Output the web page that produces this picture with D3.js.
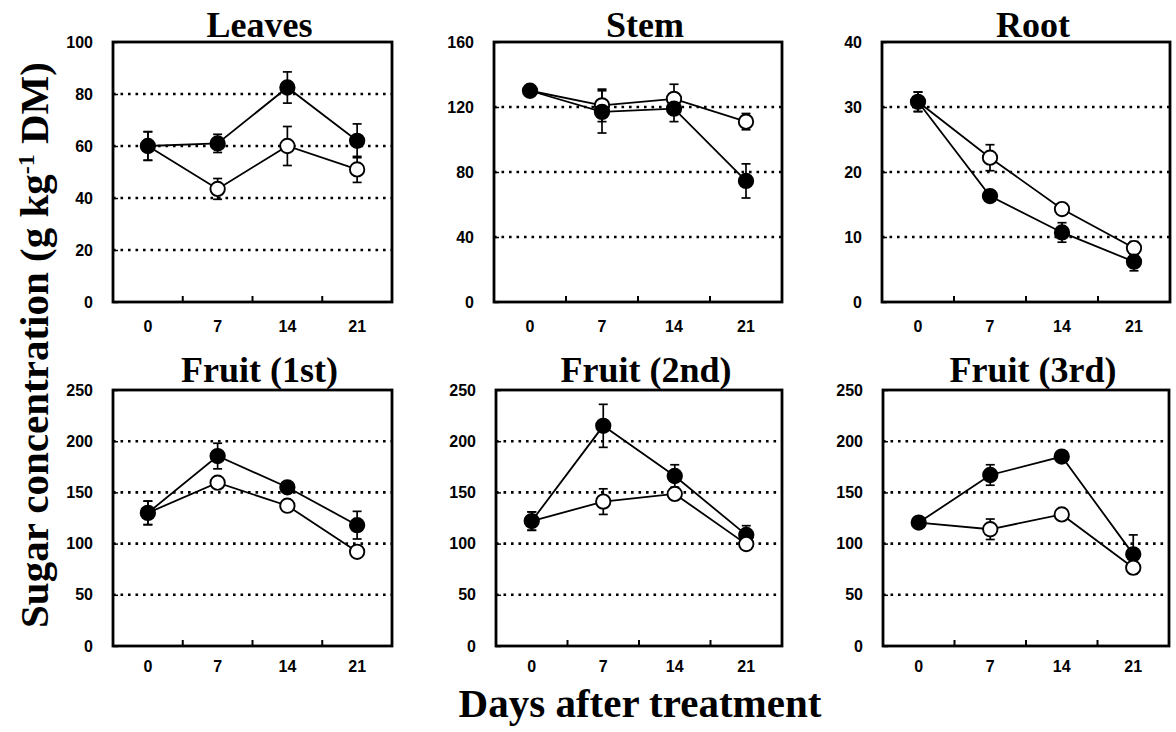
<!DOCTYPE html>
<html>
<head>
<meta charset="utf-8">
<script src="https://cdn.jsdelivr.net/npm/d3@7/dist/d3.min.js"></script>
<style>
  html, body { margin: 0; padding: 0; background: #fff; }
  svg { display: block; }
  .tick text { font-family: "Liberation Sans", Arial, sans-serif; font-weight: bold; font-size: 16px; fill: #000; }
  .title { font-family: "Liberation Serif", "Times New Roman", serif; font-weight: bold; font-size: 36px; fill: #000; }
  .axis-title { font-family: "Liberation Serif", "Times New Roman", serif; font-weight: bold; font-size: 41px; fill: #000; }
</style>
</head>
<body>
<svg id="chart" width="1176" height="732"></svg>
<script>
// Sampling days after treatment
const days = ["0", "7", "14", "21"];

// Organ panels and their y-axis ranges (g kg-1 DM)
const organs = ["Leaves", "Stem", "Root", "Fruit (1st)", "Fruit (2nd)", "Fruit (3rd)"];
const yMax  = [100, 160, 40, 250, 250, 250];
const yStep = [20, 40, 10, 50, 50, 50];

// Mean sugar concentration, filled symbols
const leavesFilled = [60, 61, 82.5, 62];
const stemFilled   = [130, 117, 119, 74.5];
const rootFilled   = [30.8, 16.3, 10.7, 6.2];
const fruit1Filled = [130, 185.5, 155, 118];
const fruit2Filled = [122, 215, 166, 108.5];
const fruit3Filled = [120.5, 167, 185, 89.5];

// Mean sugar concentration, open symbols
const leavesOpen = [60, 43.5, 60, 51];
const stemOpen   = [130, 121, 125, 111];
const rootOpen   = [30.8, 22.2, 14.3, 8.3];
const fruit1Open = [130, 159.5, 137, 92];
const fruit2Open = [122, 141, 148.5, 99.5];
const fruit3Open = [120.5, 114, 128.5, 76.5];

// Standard errors, filled symbols
const leavesFilledSE = [5.5, 3.5, 6, 6.5];
const stemFilledSE   = [1, 13, 8, 10.5];
const rootFilledSE   = [1.5, 0.6, 1.5, 1.4];
const fruit1FilledSE = [11.5, 12.5, 4, 13.5];
const fruit2FilledSE = [9, 21, 11, 9];
const fruit3FilledSE = [3, 10, 4, 19];

// Standard errors, open symbols
const leavesOpenSE = [5.5, 4, 7.5, 5];
const stemOpenSE   = [1, 10, 9, 5];
const rootOpenSE   = [1.5, 2, 0.6, 1];
const fruit1OpenSE = [11.5, 3, 3, 3];
const fruit2OpenSE = [9, 12.5, 5, 3];
const fruit3OpenSE = [3, 10, 3, 3];

const filledSeries = [leavesFilled, stemFilled, rootFilled, fruit1Filled, fruit2Filled, fruit3Filled];
const openSeries   = [leavesOpen, stemOpen, rootOpen, fruit1Open, fruit2Open, fruit3Open];
const filledSE     = [leavesFilledSE, stemFilledSE, rootFilledSE, fruit1FilledSE, fruit2FilledSE, fruit3FilledSE];
const openSE       = [leavesOpenSE, stemOpenSE, rootOpenSE, fruit1OpenSE, fruit2OpenSE, fruit3OpenSE];

// Plot frames: [left, top, width, height]
const frames = [
  [113, 42, 279, 260], [494, 42, 288, 260], [882, 42, 288, 260],
  [113, 390, 279, 256], [496, 390, 286, 256], [883, 390, 286, 256]
];

const svg = d3.select("#chart");
const R = 7.2;

organs.forEach((name, i) => {
  const [left, top, w, h] = frames[i];
  const g = svg.append("g").attr("transform", `translate(${left},${top})`);
  const x = d3.scaleBand().domain(days).range([0, w]).padding(0);
  const y = d3.scaleLinear().domain([0, yMax[i]]).range([h, 0]);
  const ticks = d3.range(0, yMax[i] + yStep[i] / 2, yStep[i]);

  // dotted reference lines
  g.selectAll("line.grid")
    .data(ticks.filter(t => t > 0 && t < yMax[i]))
    .join("line")
    .attr("class", "grid")
    .attr("x1", 0).attr("x2", w)
    .attr("y1", d => y(d)).attr("y2", d => y(d))
    .attr("stroke", "#000").attr("stroke-width", 2.6)
    .attr("stroke-dasharray", "2.6,4.9");

  // y axis with inward ticks
  const yAxis = d3.axisLeft(y).tickValues(ticks).tickSizeInner(-5).tickSizeOuter(0).tickPadding(20);
  g.append("g").call(yAxis)
    .call(a => a.select(".domain").remove())
    .call(a => a.selectAll(".tick line").attr("stroke", "#000").attr("stroke-width", 1.5));

  // x axis labels at band centres
  const xAxis = d3.axisBottom(x).tickSize(0).tickPadding(i < 3 ? 19 : 15);
  g.append("g").attr("transform", `translate(0,${h})`).call(xAxis)
    .call(a => a.select(".domain").remove());

  // tick marks on category boundaries
  g.selectAll("line.xtick")
    .data(days.slice(0, -1))
    .join("line")
    .attr("class", "xtick")
    .attr("x1", d => x(d) + x.bandwidth()).attr("x2", d => x(d) + x.bandwidth())
    .attr("y1", h).attr("y2", h - 6)
    .attr("stroke", "#000").attr("stroke-width", 2);

  // frame
  g.append("rect").attr("width", w).attr("height", h)
    .attr("fill", "none").attr("stroke", "#000").attr("stroke-width", 2.8);

  const cx = d => x(d) + x.bandwidth() / 2;
  const line = d3.line().x(d => cx(d.day)).y(d => y(d.v));

  const series = [
    { vals: openSeries[i], se: openSE[i], fill: "#fff", open: true },
    { vals: filledSeries[i], se: filledSE[i], fill: "#000", open: false }
  ].map(s => ({ ...s, pts: days.map((d, k) => ({ day: d, v: s.vals[k], e: s.se[k], k })) }));

  // error bars
  series.forEach(s => {
    const eb = g.append("g");
    s.pts.forEach(p => {
      if (!p.e) return;
      eb.append("line").attr("x1", cx(p.day)).attr("x2", cx(p.day))
        .attr("y1", y(p.v - p.e)).attr("y2", y(p.v + p.e))
        .attr("stroke", "#000").attr("stroke-width", 1.7);
      [p.v - p.e, p.v + p.e].forEach(v => {
        eb.append("line").attr("x1", cx(p.day) - 4.5).attr("x2", cx(p.day) + 4.5)
          .attr("y1", y(v)).attr("y2", y(v))
          .attr("stroke", "#000").attr("stroke-width", 1.7);
      });
    });
  });

  // connecting lines
  series.forEach(s => {
    g.append("path").datum(s.pts).attr("d", line)
      .attr("fill", "none").attr("stroke", "#000").attr("stroke-width", 1.8);
  });

  // markers; day 0 is one shared sample drawn as a filled symbol
  const order = i < 3 ? [series[0], series[1]] : [series[1], series[0]];
  order.forEach(s => {
    g.selectAll(null)
      .data(s.open ? s.pts.filter(p => p.k > 0) : s.pts)
      .join("circle")
      .attr("cx", p => cx(p.day)).attr("cy", p => y(p.v)).attr("r", R)
      .attr("fill", s.fill).attr("stroke", "#000").attr("stroke-width", 1.9);
  });

  // panel title
  svg.append("text").attr("class", "title")
    .attr("x", left + w / 2 + 7).attr("y", i < 3 ? 37 : 382)
    .attr("text-anchor", "middle").text(name);
});

// shared axis titles
svg.append("text").attr("class", "axis-title")
  .attr("x", 640).attr("y", 717).attr("text-anchor", "middle")
  .text("Days after treatment");

const yTitle = svg.append("text").attr("class", "axis-title")
  .attr("transform", "translate(48,345) rotate(-90)")
  .attr("text-anchor", "middle");
yTitle.append("tspan").text("Sugar concentration  (g kg");
yTitle.append("tspan").attr("dy", -14).attr("font-size", 24).text("-1");
yTitle.append("tspan").attr("dy", 14).text(" DM)");
</script>
</body>
</html>
